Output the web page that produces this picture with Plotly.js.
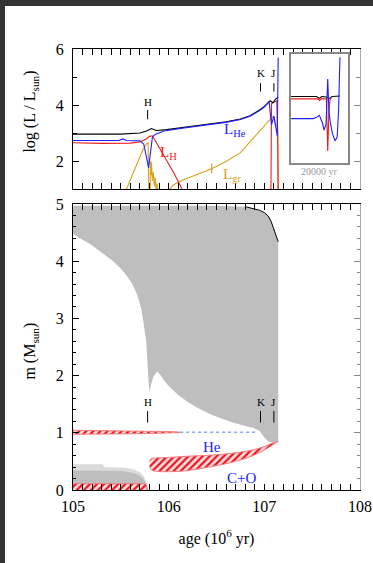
<!DOCTYPE html>
<html><head><meta charset="utf-8">
<script src="https://cdn.plot.ly/plotly-3.0.1.min.js"></script>
<style>
html,body{margin:0;padding:0;background:#333;width:373px;height:563px;overflow:hidden}
#wrap{position:absolute;left:5px;top:6px;width:368px;height:557px;background:#fff}
#chart{width:368px;height:557px}
</style></head><body><div id="wrap"><div id="chart"></div></div>
<script>
// ---------- top panel: luminosities (log L/Lsun) vs age (10^6 yr) ----------
const ageTot = [105.0,105.5,105.7,105.77,105.82,105.87,105.98,106.2,106.4,106.6,106.75,106.85,106.95,107.0,107.06,107.09,107.12,107.145];
const logLTot = [2.96,2.96,3.0,3.07,3.16,3.09,3.12,3.22,3.30,3.40,3.50,3.62,3.82,3.95,4.15,4.08,4.22,4.28];

const ageHe = [105.0,105.48,105.52,105.56,105.7,105.74,105.77,105.79,105.81,105.83,105.86,105.95,106.2,106.4,106.6,106.75,106.85,106.95,107.0,107.05,107.075,107.10,107.135,107.145];
const logLHe = [2.73,2.73,2.79,2.73,2.72,2.6,2.1,1.75,2.3,2.85,2.95,3.07,3.20,3.28,3.38,3.48,3.60,3.80,3.93,4.12,3.3,3.6,2.9,5.7];

const ageH = [105.0,105.3,105.6,105.7,105.76,105.8,105.83,105.88,105.95,106.05,106.14,106.2,null,107.068,107.07,107.075,107.10,107.13,107.14,107.145];
const logLH = [2.65,2.63,2.64,2.68,2.78,2.88,2.9,2.6,2.2,1.6,1.0,0.7,null,0.5,3.6,4.05,4.1,4.15,2.8,0.5];

const ageGr = [105.56,105.62,105.68,105.73,105.77,105.785,105.79,105.795,null,105.805,105.81,105.815,105.82,105.83,105.84,105.85,105.86,105.87,105.88,105.89,null,106.01,106.05,106.15,106.3,106.45,106.6,106.75,106.88,106.99,107.05,107.09,107.12,107.14,107.145];
const logLGr = [1.0,1.5,2.0,2.4,2.62,2.65,1.5,0.5,null,0.5,2.0,1.5,1.95,1.3,1.6,1.1,1.4,0.9,1.2,0.5,null,1.0,1.15,1.32,1.52,1.72,1.98,2.3,2.8,3.2,3.45,3.6,3.3,3.25,0.5];
const grTickAge = [106.45];
const grTickLogL = [1.74];

// ---------- inset: 20000 yr around J ----------
const insetTotYr = [0,9000,9900,10800,12500,13300,14500,17190];
const insetTot = [4.16,4.16,4.09,4.16,4.14,4.08,4.16,4.18];
const insetHYr = [0,9500,10000,10500,12400,12880,13300,13700,14200];
const insetH = [4.07,4.07,4.0,4.07,4.07,2.06,3.6,4.05,4.12];
const insetHeYr = [0,7720,8800,9930,11000,11580,12300,12880,13300,13680,14500,15440,16200,16700,17190];
const insetHe = [3.31,3.31,3.35,3.44,3.15,2.87,3.1,4.84,3.6,3.25,2.75,2.45,2.6,3.6,5.67];

// ---------- bottom panel: mass coordinate (Msun) vs age ----------
const envTopAge = [105.0,106.5,106.81,106.9,106.95,107.0,107.04,107.07,107.09,107.12,107.145];
const envTopM = [4.97,4.97,4.95,4.92,4.89,4.85,4.79,4.70,4.60,4.48,4.34];
const envBotAge = [105.0,105.07,105.18,105.28,105.42,105.5,105.56,105.62,105.67,105.71,105.73,105.765,105.78,105.79,105.80,105.81,105.84,105.88,105.91,105.95,106.0,106.1,106.2,106.3,106.43,106.55,106.67,106.8,106.88,106.95,107.0,107.04,107.08,107.145];
const envBotM = [4.48,4.40,4.30,4.18,4.0,3.87,3.75,3.6,3.42,3.2,3.0,2.6,2.2,1.9,1.7,1.8,1.98,2.07,2.02,1.92,1.82,1.66,1.54,1.44,1.33,1.25,1.18,1.12,1.09,1.03,0.92,0.85,0.83,0.84];

const coreLightAge = [105.0,105.31,105.33,105.55,105.64,105.70,105.74,105.77,105.78];
const coreLightM = [0.45,0.45,0.40,0.39,0.36,0.31,0.24,0.12,0.0];
const coreDarkAge = [105.0,105.5,105.6,105.68,105.73,105.76,105.78];
const coreDarkM = [0.34,0.33,0.31,0.27,0.21,0.12,0.0];
const coreBurnAge = [105.0,105.76,105.78];
const coreBurnM = [0.11,0.11,0.0];

const hShellAge = [105.0,105.4,105.7,105.9,106.05,106.12];
const hShellTop = [1.045,1.04,1.035,1.03,1.02,1.01];
const hShellBot = [0.975,0.98,0.985,0.99,1.0,1.005];
const hDotAge = [106.12,106.93];
const hDotM = [1.01,1.01];

const heShellAge = [105.80,105.82,105.86,106.0,106.2,106.45,106.65,106.85,107.0,107.1,107.145];
const heShellTop = [0.50,0.55,0.56,0.57,0.59,0.61,0.64,0.69,0.76,0.83,0.85];
const heShellBot = [0.42,0.35,0.33,0.32,0.34,0.41,0.48,0.58,0.70,0.80,0.85];

// ---------- event markers ----------
const eventNames = ['H','K','J'];
const eventAges = [105.78,106.96,107.10];

// ---------- tick labels ----------
const ageTickVals = [105,106,107,108];
const ageTickText = ['105','106','107','108'];

const BLUE='#2020ff', RED='#ee1c1c', GOLD='#d9a21b', GRAY='#bebebe';
const SERIF='Liberation Serif, Times New Roman, serif';

const traces = [];
// bottom panel
traces.push({x:envTopAge.concat(envBotAge.slice().reverse()), y:envTopM.concat(envBotM.slice().reverse()),
  xaxis:'x2',yaxis:'y2',mode:'lines',fill:'toself',fillcolor:GRAY,line:{width:0,color:GRAY},hoverinfo:'skip'});
traces.push({x:envTopAge.slice(2), y:envTopM.slice(2), xaxis:'x2',yaxis:'y2',mode:'lines',line:{width:1,color:'#000'},hoverinfo:'skip'});
traces.push({x:coreLightAge,y:coreLightM,xaxis:'x2',yaxis:'y2',mode:'lines',fill:'tozeroy',fillcolor:'#dadada',line:{width:0,color:'#dadada'},hoverinfo:'skip'});
traces.push({x:coreDarkAge,y:coreDarkM,xaxis:'x2',yaxis:'y2',mode:'lines',fill:'tozeroy',fillcolor:GRAY,line:{width:0,color:GRAY},hoverinfo:'skip'});
const hatch = {shape:'/',fgcolor:'#e8141e',bgcolor:'#ffdede',size:5,solidity:0.45};
traces.push({x:coreBurnAge,y:coreBurnM,xaxis:'x2',yaxis:'y2',mode:'lines',fill:'tozeroy',fillpattern:hatch,fillcolor:'#ffdede',line:{width:1,color:'#f37a7a'},hoverinfo:'skip'});
traces.push({x:hShellAge.concat(hShellAge.slice().reverse()), y:hShellTop.concat(hShellBot.slice().reverse()),
  xaxis:'x2',yaxis:'y2',mode:'lines',fill:'toself',fillpattern:hatch,fillcolor:'#ffdede',line:{width:1,color:'#f37a7a'},hoverinfo:'skip'});
traces.push({x:hDotAge,y:hDotM,xaxis:'x2',yaxis:'y2',mode:'lines',line:{width:1.5,color:'#8aa6ff',dash:'dot'},hoverinfo:'skip'});
traces.push({x:heShellAge.concat(heShellAge.slice().reverse()), y:heShellTop.concat(heShellBot.slice().reverse()),
  xaxis:'x2',yaxis:'y2',mode:'lines',fill:'toself',fillpattern:hatch,fillcolor:'#ffdede',line:{width:1,color:'#f37a7a',shape:'spline'},hoverinfo:'skip'});

// top panel
traces.push({x:ageGr,y:logLGr,xaxis:'x',yaxis:'y',mode:'lines',line:{width:1.1,color:GOLD},hoverinfo:'skip'});
traces.push({x:grTickAge,y:grTickLogL,xaxis:'x',yaxis:'y',mode:'markers',marker:{symbol:'line-ns',size:7,line:{width:1.2,color:GOLD}},hoverinfo:'skip'});
traces.push({x:ageH,y:logLH,xaxis:'x',yaxis:'y',mode:'lines',line:{width:1.1,color:RED},hoverinfo:'skip'});
traces.push({x:ageTot,y:logLTot,xaxis:'x',yaxis:'y',mode:'lines',line:{width:1.1,color:'#000'},hoverinfo:'skip'});
traces.push({x:ageHe,y:logLHe,xaxis:'x',yaxis:'y',mode:'lines',line:{width:1.1,color:BLUE},hoverinfo:'skip'});

// inset
traces.push({x:insetTotYr,y:insetTot,xaxis:'x3',yaxis:'y3',mode:'lines',line:{width:1.1,color:'#000'},hoverinfo:'skip'});
traces.push({x:insetHYr,y:insetH,xaxis:'x3',yaxis:'y3',mode:'lines',line:{width:1.1,color:RED},hoverinfo:'skip'});
traces.push({x:insetHeYr,y:insetHe,xaxis:'x3',yaxis:'y3',mode:'lines',line:{width:1.1,color:BLUE},hoverinfo:'skip'});

// dummy traces for right-side tick axes
traces.push({x:[105],y:[null],xaxis:'x',yaxis:'y4',mode:'lines',hoverinfo:'skip'});
traces.push({x:[105],y:[null],xaxis:'x2',yaxis:'y5',mode:'lines',hoverinfo:'skip'});

const shapes = [];
const annotations = [];
const topLabelY = [4.12,5.13,5.13], topTick = [[3.49,3.82],[4.48,4.78],[4.48,4.78]];
eventAges.forEach((a,i)=>{
  annotations.push({x:a,y:topLabelY[i],xref:'x',yref:'y',text:eventNames[i],showarrow:false,font:{size:11,family:SERIF}});
  shapes.push({type:'line',xref:'x',yref:'y',x0:a,x1:a,y0:topTick[i][0],y1:topTick[i][1],line:{width:1,color:'#000'}});
  annotations.push({x:a,y:1.53,xref:'x2',yref:'y2',text:eventNames[i],showarrow:false,font:{size:11,family:SERIF}});
  shapes.push({type:'line',xref:'x2',yref:'y2',x0:a,x1:a,y0:1.18,y1:1.38,line:{width:1,color:'#000'}});
});
annotations.push({x:106.69,y:3.1,xref:'x',yref:'y',text:'L<sub>He</sub>',showarrow:false,font:{size:15,color:BLUE,family:SERIF}});
annotations.push({x:106.0,y:2.3,xref:'x',yref:'y',text:'L<sub>H</sub>',showarrow:false,font:{size:15,color:RED,family:SERIF}});
annotations.push({x:106.66,y:1.5,xref:'x',yref:'y',text:'L<sub>gr</sub>',showarrow:false,font:{size:15,color:GOLD,family:SERIF}});
annotations.push({x:106.45,y:0.75,xref:'x2',yref:'y2',text:'He',showarrow:false,font:{size:15,color:BLUE,family:SERIF}});
annotations.push({x:106.76,y:0.21,xref:'x2',yref:'y2',text:'C+O',showarrow:false,font:{size:15,color:BLUE,family:SERIF}});
annotations.push({x:0.859,y:0.7395,xref:'paper',yref:'paper',xanchor:'center',yanchor:'top',text:'20000 yr',showarrow:false,font:{size:10,color:'#999',family:SERIF}});
// y-axis titles placed precisely
annotations.push({x:-0.148,y:0.857,xref:'paper',yref:'paper',xanchor:'center',yanchor:'middle',textangle:-90,text:'log (L / L<sub>sun</sub>)',showarrow:false,font:{size:16,family:SERIF}});
annotations.push({x:-0.148,y:0.315,xref:'paper',yref:'paper',xanchor:'center',yanchor:'middle',textangle:-90,text:'m (M<sub>sun</sub>)',showarrow:false,font:{size:16,family:SERIF}});

const axBase = {showgrid:false,zeroline:false,showline:true,linecolor:'#000',linewidth:1,ticks:'inside',ticklen:6,tickcolor:'#000',tickfont:{size:16,family:SERIF}};

const layout = {
  width:368,height:557,margin:{l:68,r:13,t:43,b:73},
  paper_bgcolor:'#fff',plot_bgcolor:'#fff',showlegend:false,
  font:{family:SERIF,size:16,color:'#000'},
  xaxis:Object.assign({},axBase,{domain:[0,1],anchor:'y',range:[105,108],tickmode:'array',tickvals:ageTickVals,ticktext:ageTickText,showticklabels:false,mirror:'allticks',
    minor:{dtick:0.1,tick0:105,ticks:'inside',ticklen:3,tickcolor:'#000'}}),
  yaxis:Object.assign({},axBase,{domain:[0.6825,1],anchor:'x',range:[1,6],tickmode:'array',tickvals:[2,4,6],ticklabelstandoff:5,
    minor:{dtick:1,tick0:0,ticks:'inside',ticklen:4,tickcolor:'#000'}}),
  xaxis2:Object.assign({},axBase,{domain:[0,1],anchor:'y2',range:[105,108],tickmode:'array',tickvals:ageTickVals,ticktext:ageTickText,mirror:'allticks',ticklabelstandoff:2,
    minor:{dtick:0.1,tick0:105,ticks:'inside',ticklen:3,tickcolor:'#000'},
    title:{text:'age (10<sup>6</sup> yr)',font:{size:16,family:SERIF},standoff:18}}),
  yaxis2:Object.assign({},axBase,{domain:[0,0.6485],anchor:'x2',range:[0,5],dtick:1,tick0:0,ticklabelstandoff:5,
    minor:{dtick:0.2,tick0:0,ticks:'inside',ticklen:3,tickcolor:'#000'}}),
  xaxis3:{domain:[0.76,0.958],anchor:'y3',range:[0,20000],showgrid:false,zeroline:false,showticklabels:false,ticks:'',showline:true,mirror:true,linecolor:'#888',linewidth:2},
  yaxis3:{domain:[0.7415,0.9887],anchor:'x3',range:[1.6,5.8],showgrid:false,zeroline:false,showticklabels:false,ticks:'',showline:true,mirror:true,linecolor:'#888',linewidth:2},
  yaxis4:{overlaying:'y',side:'right',anchor:'x',range:[1,6],tickmode:'array',tickvals:[2,4,6],showticklabels:false,showgrid:false,zeroline:false,
    showline:true,linecolor:'#aaa',ticks:'inside',ticklen:6,tickcolor:'#888',minor:{dtick:1,tick0:0,ticks:'inside',ticklen:4,tickcolor:'#888'}},
  yaxis5:{overlaying:'y2',side:'right',anchor:'x2',range:[0,5],dtick:1,tick0:0,showticklabels:false,showgrid:false,zeroline:false,
    showline:true,linecolor:'#aaa',ticks:'inside',ticklen:6,tickcolor:'#888',minor:{dtick:0.2,tick0:0,ticks:'inside',ticklen:3,tickcolor:'#888'}},
  shapes:shapes,annotations:annotations
};
Plotly.newPlot('chart',traces,layout,{staticPlot:true,displayModeBar:false});
</script></body></html>
